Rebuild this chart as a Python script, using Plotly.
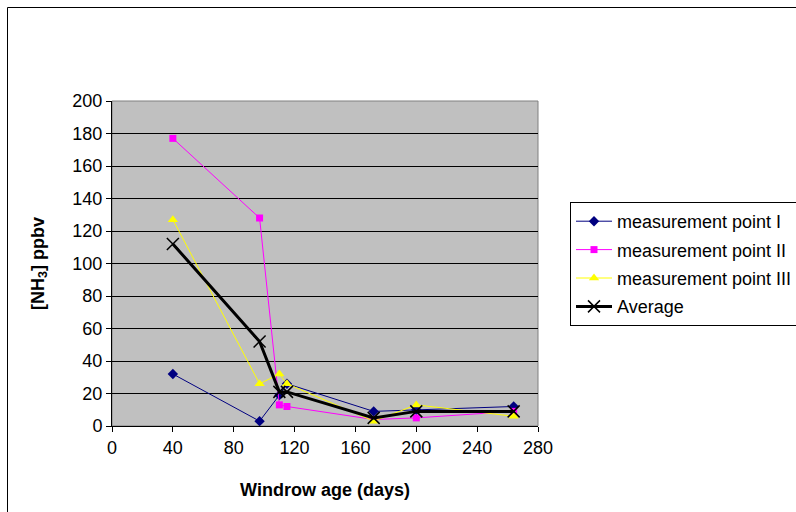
import plotly.graph_objects as go

days = [40, 97, 110, 115, 172, 200, 264]
point_I = [32, 3, 19, 26, 9, 10, 12]
point_II = [177, 128, 13, 12, 4, 5, 9]
point_III = [127, 26, 32, 26, 3, 13, 6]
average = [112, 52, 21, 21, 5, 9, 9]

names = ["measurement point I", "measurement point II", "measurement point III", "Average"]

W, H = 900, 512
L, T, B = 112, 101, 86
R = W - 538
pw, ph = W - L - R, H - T - B

def px2x(p):
    return (p - L) / pw

def px2y(p):
    return (H - B - p) / ph

fig = go.Figure()
fig.add_trace(go.Scatter(x=days, y=point_I, name=names[0], mode="lines+markers",
                         line=dict(color="#000080", width=1),
                         marker=dict(symbol="diamond", size=8, color="#000080")))
fig.add_trace(go.Scatter(x=days, y=point_II, name=names[1], mode="lines+markers",
                         line=dict(color="#FF00FF", width=1),
                         marker=dict(symbol="square", size=7, color="#FF00FF")))
fig.add_trace(go.Scatter(x=days, y=point_III, name=names[2], mode="lines+markers",
                         line=dict(color="#FFFF00", width=1),
                         marker=dict(symbol="triangle-up", size=9, color="#FFFF00")))
fig.add_trace(go.Scatter(x=days, y=average, name=names[3], mode="lines+markers",
                         line=dict(color="#000000", width=3),
                         marker=dict(symbol="x-thin-open", size=12,
                                     line=dict(color="#000000", width=1.5))))
for i, tr in enumerate(fig.data):
    tr.legendgroup = "g%d" % i

font = "Liberation Sans, Arial, sans-serif"
fs = 18

fig.update_layout(
    width=W, height=H,
    margin=dict(l=L, r=R, t=T, b=B, autoexpand=False),
    paper_bgcolor="white", plot_bgcolor="#C0C0C0",
    font=dict(family=font, size=fs, color="black"),
    showlegend=True,
    legend=dict(x=px2x(570), y=px2y(202), xanchor="left", yanchor="top",
                bordercolor="black", borderwidth=1, bgcolor="white",
                font=dict(size=fs), itemwidth=36, tracegroupgap=2,
                traceorder="grouped"),
    xaxis=dict(range=[0, 280], tickmode="array", tickvals=list(range(0, 281, 40)),
               showgrid=False, zeroline=False, showline=True, linecolor="black",
               linewidth=1, ticks="outside", ticklen=5, tickcolor="black",
               tickfont=dict(size=fs),
               title=dict(text="<b>Windrow age (days)</b>", font=dict(size=fs), standoff=26)),
    yaxis=dict(range=[0, 200], tickmode="array", tickvals=list(range(0, 201, 20)),
               showgrid=True, gridcolor="black", gridwidth=1, zeroline=False,
               showline=True, linecolor="black", linewidth=1, ticks="outside",
               ticklen=5, tickcolor="black", tickfont=dict(size=fs),
               title=dict(text="<b>[NH<sub>3</sub>] ppbv</b>", font=dict(size=fs), standoff=23)),
    shapes=[
        dict(type="rect", xref="paper", yref="paper", x0=0, x1=1, y0=0, y1=1,
             line=dict(color="#808080", width=1), layer="below"),
        dict(type="rect", xref="paper", yref="paper", x0=px2x(7.5), x1=px2x(W - 5),
             y0=px2y(H + 50), y1=px2y(7.5), line=dict(color="black", width=1),
             fillcolor="rgba(0,0,0,0)", layer="below"),
    ],
)

fig.write_html("out.html", config={"displayModeBar": False},
               post_script="document.body.style.margin='0';document.body.style.overflow='hidden';")
